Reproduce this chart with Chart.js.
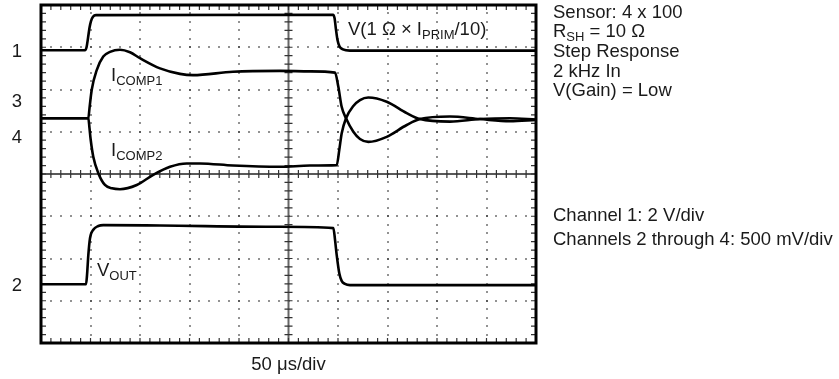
<!DOCTYPE html>
<html>
<head>
<meta charset="utf-8">
<script src="https://cdn.jsdelivr.net/npm/chart.js"></script>
<style>
  html, body { margin: 0; padding: 0; background: #fff; }
</style>
</head>
<body>
<canvas id="scope" width="839" height="379"></canvas>
<script>
// time in us (50 us/div, 10 div across); level in screen divisions from the bottom (8 div)
var ch1Time  = [0, 44.4, 46, 47.5, 49, 50.5, 52.5, 55.5, 295, 296.5, 298, 299.5, 301.5, 305, 312, 500];
var ch1Level = [6.93, 6.93, 7.0, 7.22, 7.46, 7.62, 7.72, 7.76, 7.77, 7.69, 7.41, 7.17, 7.02, 6.95, 6.92, 6.92];

var ch2Time  = [0, 45.5, 46.5, 47.8, 49.5, 52.8, 57.9, 62.9, 120.2, 241.4, 295.3, 297, 298.7, 301.3, 303.7, 307, 312.1, 500];
var ch2Level = [1.39, 1.39, 1.61, 2.08, 2.48, 2.68, 2.77, 2.79, 2.78, 2.75, 2.72, 2.44, 2.08, 1.65, 1.47, 1.40, 1.37, 1.37];

var ch3Time  = [0, 47.8, 49.0, 51.2, 56.3, 62.9, 69.7, 79.8, 89.9, 100, 120.2, 140.4, 153.5, 193.9, 241.4, 271.7, 297, 300.3, 303.7, 308.1, 315.5, 322.2, 330.6, 349.2, 369.4, 382.8, 413.1, 443.4, 473.7, 500];
var ch3Level = [5.32, 5.32, 5.56, 5.99, 6.46, 6.78, 6.89, 6.94, 6.88, 6.74, 6.50, 6.37, 6.34, 6.42, 6.44, 6.43, 6.40, 6.07, 5.59, 5.32, 5.00, 4.83, 4.76, 4.88, 5.16, 5.30, 5.36, 5.30, 5.25, 5.28];

var ch4Time  = [0, 47.8, 49.0, 50.2, 52.8, 57.9, 64.6, 71.7, 79.8, 96.7, 113.4, 130.3, 147.2, 160.6, 193.9, 241.4, 271.7, 298.7, 301.3, 303.7, 308.1, 315.5, 322.2, 330.6, 349.2, 369.4, 382.8, 413.1, 443.4, 473.7, 500];
var ch4Level = [5.32, 5.32, 5.08, 4.81, 4.41, 4.02, 3.74, 3.66, 3.64, 3.74, 3.98, 4.17, 4.25, 4.25, 4.20, 4.17, 4.20, 4.21, 4.57, 4.96, 5.32, 5.61, 5.75, 5.81, 5.71, 5.44, 5.30, 5.24, 5.30, 5.32, 5.29];

var channelNames = ['1', '2', '3', '4'];
var infoLines = ['Sensor: 4 x 100', null, 'Step Response', '2 kHz In', 'V(Gain) = Low'];
var scaleLines = ['Channel 1: 2 V/div', 'Channels 2 through 4: 500 mV/div'];
var timeBase = '50 \u03bcs/div';

var FONT = 'Arial, "Liberation Sans", sans-serif';
var SIZE = 18.5;

function pts(t, v) {
  return t.map(function (x, i) { return { x: x, y: v[i] }; });
}

function trace(t, v) {
  return {
    data: pts(t, v),
    borderColor: '#000',
    borderWidth: 2.6,
    pointRadius: 0,
    cubicInterpolationMode: 'monotone',
    fill: false
  };
}

// text with a subscript part, parts = [[text, isSub], ...]
function subText(ctx, x, y, parts, size) {
  parts.forEach(function (p) {
    var s = p[1] ? Math.round(size * 0.72) : size;
    ctx.font = s + 'px ' + FONT;
    ctx.fillText(p[0], x, p[1] ? y + size * 0.3 : y);
    x += ctx.measureText(p[0]).width;
  });
}

// graticule: dotted grid, centre cross with ticks, border ticks
const graticule = {
  id: 'graticule',
  beforeDatasetsDraw(chart) {
    const { ctx, chartArea: a, scales: { x, y } } = chart;
    ctx.save();
    ctx.fillStyle = '#222';
    for (let i = 1; i < 10; i++) {
      if (i === 5) continue;
      const px = x.getPixelForValue(i * 50);
      for (let j = 1; j < 40; j++) {
        const py = y.getPixelForValue(j * 0.2);
        ctx.fillRect(Math.round(px) - 0.7, Math.round(py) - 0.7, 1.4, 1.4);
      }
    }
    for (let j = 1; j < 8; j++) {
      if (j === 4) continue;
      const py = y.getPixelForValue(j);
      for (let i = 1; i < 50; i++) {
        const px = x.getPixelForValue(i * 10);
        ctx.fillRect(Math.round(px) - 0.7, Math.round(py) - 0.7, 1.4, 1.4);
      }
    }

    const cx = x.getPixelForValue(250);
    const cy = y.getPixelForValue(4);
    ctx.strokeStyle = '#666';
    ctx.lineWidth = 2;
    ctx.beginPath();
    ctx.moveTo(cx, a.top); ctx.lineTo(cx, a.bottom);
    ctx.stroke();
    ctx.strokeStyle = '#222';
    ctx.lineWidth = 1.5;
    ctx.beginPath();
    ctx.moveTo(a.left, cy); ctx.lineTo(a.right, cy);
    ctx.stroke();

    ctx.lineWidth = 1.2;
    ctx.strokeStyle = '#333';
    ctx.beginPath();
    for (let j = 1; j < 40; j++) {
      const py = y.getPixelForValue(j * 0.2);
      ctx.moveTo(cx - 4, py); ctx.lineTo(cx + 4, py);
      ctx.moveTo(a.left, py); ctx.lineTo(a.left + 5, py);
      ctx.moveTo(a.right, py); ctx.lineTo(a.right - 5, py);
    }
    for (let i = 1; i < 50; i++) {
      const px = x.getPixelForValue(i * 10);
      ctx.moveTo(px, cy - 4); ctx.lineTo(px, cy + 4);
      ctx.moveTo(px, a.top); ctx.lineTo(px, a.top + 5);
      ctx.moveTo(px, a.bottom); ctx.lineTo(px, a.bottom - 5);
    }
    ctx.stroke();
    ctx.restore();
  },
  afterDatasetsDraw(chart) {
    const { ctx, chartArea: a } = chart;
    ctx.save();
    ctx.strokeStyle = '#000';
    ctx.lineWidth = 3;
    ctx.strokeRect(a.left, a.top, a.right - a.left, a.bottom - a.top);
    ctx.restore();
  }
};

const labels = {
  id: 'labels',
  afterDraw(chart) {
    const { ctx, scales: { x } } = chart;
    ctx.save();
    ctx.fillStyle = '#1a1a1a';
    ctx.textBaseline = 'middle';

    // channel numbers left of the screen
    ctx.textAlign = 'center';
    ctx.font = SIZE + 'px ' + FONT;
    var numY = [52, 285.5, 101.5, 138];
    channelNames.forEach(function (n, i) { ctx.fillText(n, 17, numY[i]); });
    ctx.fillText(timeBase, x.getPixelForValue(250), 365);

    ctx.textAlign = 'left';
    subText(ctx, 348, 30, [['V(1 \u03a9 \u00d7 I', 0], ['PRIM', 1], ['/10)', 0]], SIZE);
    subText(ctx, 111, 76, [['I', 0], ['COMP1', 1]], SIZE);
    subText(ctx, 111, 151, [['I', 0], ['COMP2', 1]], SIZE);
    subText(ctx, 97, 271, [['V', 0], ['OUT', 1]], SIZE);

    // settings text on the right
    var tx = 553;
    var lineY = [13, 32, 52, 72, 91];
    infoLines.forEach(function (s, i) {
      if (s) {
        ctx.font = SIZE + 'px ' + FONT;
        ctx.fillText(s, tx, lineY[i]);
      } else {
        subText(ctx, tx, lineY[i], [['R', 0], ['SH', 1], [' = 10 \u03a9', 0]], SIZE);
      }
    });
    ctx.font = SIZE + 'px ' + FONT;
    ctx.fillText(scaleLines[0], tx, 216);
    ctx.fillText(scaleLines[1], tx, 240);
    ctx.restore();
  }
};

new Chart(document.getElementById('scope').getContext('2d'), {
  type: 'line',
  data: {
    datasets: [
      trace(ch1Time, ch1Level),
      trace(ch2Time, ch2Level),
      trace(ch3Time, ch3Level),
      trace(ch4Time, ch4Level)
    ]
  },
  options: {
    responsive: false,
    animation: false,
    devicePixelRatio: 1,
    layout: { padding: { left: 41, top: 5, right: 303, bottom: 36 } },
    plugins: { legend: { display: false }, tooltip: { enabled: false } },
    scales: {
      x: { type: 'linear', min: 0, max: 500, display: false },
      y: { type: 'linear', min: 0, max: 8, display: false }
    }
  },
  plugins: [graticule, labels]
});
</script>
</body>
</html>
